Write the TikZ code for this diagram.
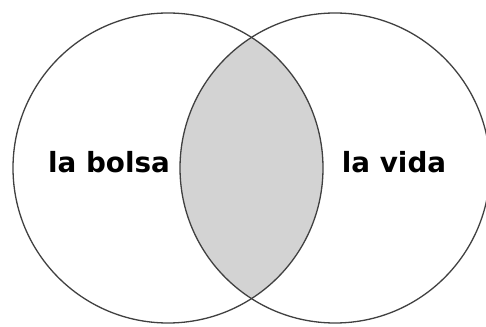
\documentclass[tikz,border=0pt]{standalone}
\usepackage{fontspec}
\setmainfont{DejaVu Sans}
\usepackage{tikz}

\definecolor{vennline}{HTML}{404040}
\definecolor{venngray}{HTML}{D3D3D3}

\begin{document}
\begin{tikzpicture}[x=1pt,y=1pt,
  venn/.style={draw=vennline, line width=1.3pt},
  venntext/.style={font=\bfseries\fontsize{27.8}{30}\selectfont, anchor=base, inner sep=0pt}]
  \useasboundingbox (0,0) rectangle (486,326);
  \coordinate (bolsa) at (168,158);
  \coordinate (vida) at (335,158);
  % interseccion
  \begin{scope}
    \clip (bolsa) circle (155);
    \fill[venngray] (vida) circle (155);
  \end{scope}
  \draw[venn] (bolsa) circle (155);
  \draw[venn] (vida) circle (155);
  \node[venntext] (lbolsa) at (109,153) {la bolsa};
  \node[venntext] (lvida) at (394,153) {la vida};
\end{tikzpicture}
\end{document}
